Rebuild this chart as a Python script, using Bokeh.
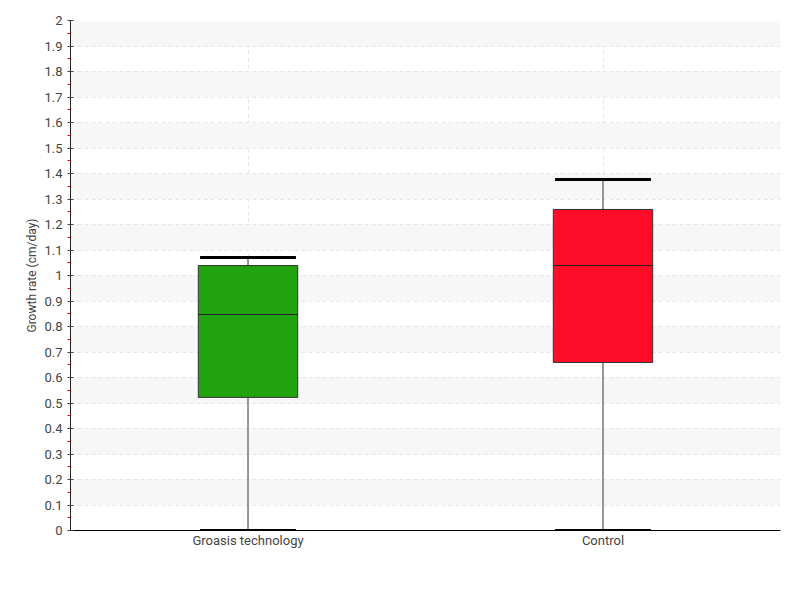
from bokeh.plotting import figure
from bokeh.models import ColumnDataSource, FixedTicker
from bokeh.transform import dodge
from bokeh.embed import file_html
from bokeh.resources import INLINE

categories = ["Groasis technology", "Control"]
lower = [0.0, 0.0]
q1 = [0.522, 0.659]
median = [0.847, 1.039]
q3 = [1.039, 1.259]
upper = [1.071, 1.376]
colors = ["#21a30f", "#ff0d28"]
y_ticks = [round(i * 0.1, 1) for i in range(0, 21)]

src = ColumnDataSource(dict(cat=categories, lower=lower, q1=q1, median=median,
                            q3=q3, upper=upper, color=colors))

FONT = "Roboto"

p = figure(x_range=categories, y_range=(0, 2), width=800, height=600,
           output_backend="svg", toolbar_location=None,
           min_border_left=70, min_border_right=20, min_border_top=20, min_border_bottom=70)
p.outline_line_color = None

xl = dodge("cat", -0.135, range=p.x_range)
xr = dodge("cat", 0.135, range=p.x_range)
xlm = dodge("cat", -0.14, range=p.x_range)
xrm = dodge("cat", 0.14, range=p.x_range)

# whiskers
p.segment(x0="cat", y0="lower", x1="cat", y1="upper", source=src, line_color="#777777", line_width=1.5)
# boxes
p.vbar(x="cat", bottom="q1", top="q3", width=0.28, source=src, fill_color="color",
       line_color="#333333", line_width=1)
# median
p.segment(x0=xlm, y0="median", x1=xrm, y1="median", source=src, line_color="#222222", line_width=1)
# caps
p.segment(x0=xl, y0="upper", x1=xr, y1="upper", source=src, line_color="black", line_width=3)
p.segment(x0=xl, y0="lower", x1=xr, y1="lower", source=src, line_color="black", line_width=3)

p.yaxis.ticker = FixedTicker(ticks=y_ticks, minor_ticks=[round(0.05 + i * 0.1, 2) for i in range(20)])
p.yaxis.major_label_overrides = {t: ("%g" % t) for t in y_ticks}
p.yaxis.axis_label = "Growth rate (cm/day)"
p.yaxis.axis_label_text_font = FONT
p.yaxis.axis_label_text_font_style = "normal"
p.yaxis.axis_label_text_font_size = "12px"
p.yaxis.axis_label_text_color = "#444444"
p.yaxis.major_label_text_font = FONT
p.yaxis.major_label_text_font_size = "13px"
p.yaxis.major_label_text_color = "#444444"
p.yaxis.axis_line_color = "#222222"
p.yaxis.major_tick_in = 3
p.yaxis.major_tick_out = 3
p.yaxis.major_tick_line_color = "#444444"
p.yaxis.minor_tick_in = 0
p.yaxis.minor_tick_out = 3
p.yaxis.minor_tick_line_color = "red"
p.yaxis.axis_label_standoff = 2

p.xaxis.major_label_text_font = FONT
p.xaxis.major_label_text_font_size = "13px"
p.xaxis.major_label_text_color = "#444444"
p.xaxis.major_tick_line_color = None
p.xaxis.major_tick_out = 0
p.xaxis.major_tick_in = 0
p.xaxis.axis_line_color = "black"
p.xaxis.major_label_standoff = 2

p.ygrid.ticker = FixedTicker(ticks=y_ticks)
p.ygrid.grid_line_color = "#e6e6e6"
p.ygrid.grid_line_dash = "4 3"
p.ygrid.band_fill_color = "#f7f7f7"
p.ygrid.band_fill_alpha = 1.0
p.xgrid.grid_line_color = "#e6e6e6"
p.xgrid.grid_line_dash = "4 3"

open("out.html", "w").write(file_html(p, INLINE))
